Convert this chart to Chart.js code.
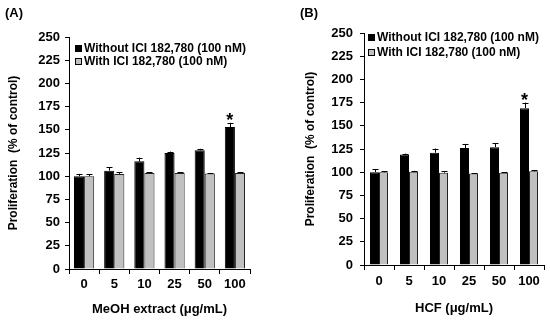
<!DOCTYPE html>
<html>
<head>
<meta charset="utf-8">
<script src="https://cdn.jsdelivr.net/npm/chart.js@4"></script>
<style>
  body { margin: 0; background: #fff; }
  .wrap { display: flex; width: 550px; height: 321px; }
  canvas { display: block; }
</style>
</head>
<body>
<div class="wrap">
  <canvas id="chart-a" width="275" height="321"></canvas>
  <canvas id="chart-b" width="275" height="321"></canvas>
</div>
<script>
// doses on the x axis (µg/mL)
const doses = ['0', '5', '10', '25', '50', '100'];

// panel A: MeOH extract
const meohWithout = [100, 106, 116, 125, 128, 153];
const meohWithoutErr = [2.5, 3.5, 4, 1.5, 1.5, 4.5];
const meohWith = [100, 102.5, 103.5, 103.5, 103, 103.5];
const meohWithErr = [2, 1.5, 0.5, 0.5, 0.5, 0.5];
const meohMarks = ['', '', '', '', '', '*'];

// panel B: HCF
const hcfWithout = [100, 119, 121, 126, 127, 169];
const hcfWithoutErr = [3, 1, 4.5, 4.5, 4.5, 6];
const hcfWith = [100, 100.5, 99.5, 98.5, 99.5, 101];
const hcfWithErr = [1, 1, 1.5, 0.5, 0.5, 1];
const hcfMarks = ['', '', '', '', '', '*'];

const yMin = 0;
const yMax = 250;
const yStep = 25;

const FONT = "'Liberation Sans', Arial, sans-serif";

const errorBars = {
  id: 'errorBars',
  afterDatasetsDraw(chart) {
    const ctx = chart.ctx;
    const y = chart.scales.y;
    chart.data.datasets.forEach((ds, i) => {
      const meta = chart.getDatasetMeta(i);
      meta.data.forEach((bar, j) => {
        const top = y.getPixelForValue(ds.data[j] + ds.errors[j]);
        const x = Math.round(bar.x) + 0.5;
        ctx.save();
        ctx.strokeStyle = '#000';
        ctx.lineWidth = 1;
        ctx.beginPath();
        ctx.moveTo(x, bar.y);
        ctx.lineTo(x, top);
        ctx.moveTo(x - 3, Math.round(top) + 0.5);
        ctx.lineTo(x + 3, Math.round(top) + 0.5);
        ctx.stroke();
        if (ds.marks && ds.marks[j]) {
          ctx.fillStyle = '#000';
          ctx.font = 'bold 18px ' + FONT;
          ctx.textAlign = 'center';
          ctx.textBaseline = 'alphabetic';
          ctx.fillText(ds.marks[j], bar.x, top + 3);
        }
        ctx.restore();
      });
    });
  }
};

const boxLegend = {
  id: 'boxLegend',
  afterDraw(chart, args, opts) {
    const ctx = chart.ctx;
    const area = chart.chartArea;
    ctx.save();
    ctx.font = 'bold 12px ' + FONT;
    ctx.textBaseline = 'middle';
    chart.data.datasets.forEach((ds, i) => {
      const cy = Math.round(area.top + opts.top + i * opts.rowGap);
      const bx = Math.round(area.left + opts.left);
      ctx.fillStyle = ds.backgroundColor;
      ctx.fillRect(bx, cy - 3, 7, 7);
      ctx.strokeStyle = '#000';
      ctx.lineWidth = 1;
      ctx.strokeRect(bx + 0.5, cy - 2.5, 6, 6);
      ctx.fillStyle = '#000';
      ctx.fillText(ds.label, bx + 9, cy + 0.5);
    });
    // panel letter
    ctx.font = 'bold 13px ' + FONT;
    ctx.fillText(opts.panel, opts.panelX, 13.5);
    ctx.restore();
  }
};

function makeChart(id, p) {
  const ctx = document.getElementById(id).getContext('2d');
  return new Chart(ctx, {
    type: 'bar',
    data: {
      labels: doses,
      datasets: [
        {
          label: 'Without ICI 182,780 (100 nM)',
          data: p.without,
          errors: p.withoutErr,
          marks: p.marks,
          backgroundColor: '#000000',
          borderColor: '#000000',
          borderWidth: 1,
        },
        {
          label: 'With ICI 182,780 (100 nM)',
          data: p.with,
          errors: p.withErr,
          backgroundColor: '#c0c0c0',
          borderColor: '#222222',
          borderWidth: 1,
        },
      ],
    },
    options: {
      responsive: false,
      animation: false,
      layout: { padding: p.padding },
      datasets: {
        bar: { categoryPercentage: p.cat, barPercentage: 1 },
      },
      plugins: {
        legend: { display: false },
        tooltip: { enabled: false },
        boxLegend: p.legend,
      },
      scales: {
        x: {
          afterFit: (scale) => { scale.height = p.xHeight; },
          grid: { offset: true, drawOnChartArea: false, tickLength: 5, color: '#000' },
          border: { color: '#000', width: 1 },
          ticks: { color: '#000', padding: p.xTickPad, font: { family: FONT, size: 13, weight: 'bold' } },
          title: {
            display: true,
            text: p.xTitle,
            color: '#000',
            padding: { top: 0, bottom: p.xTitlePad },
            font: { family: FONT, size: 13, weight: 'bold' },
          },
        },
        y: {
          min: yMin,
          max: yMax,
          afterFit: (scale) => { scale.width = p.yWidth; },
          grid: { drawOnChartArea: false, tickLength: 4, color: '#000' },
          border: { color: '#000', width: 1 },
          ticks: { stepSize: yStep, color: '#000', padding: p.yTickPad, font: { family: FONT, size: 13, weight: 'bold' } },
          title: {
            display: true,
            text: 'Proliferation  (% of control)',
            color: '#000',
            padding: { top: p.yTitlePad, bottom: 0 },
            font: { family: FONT, size: 12, weight: 'bold' },
          },
        },
      },
    },
    plugins: [errorBars, boxLegend],
  });
}

makeChart('chart-a', {
  without: meohWithout, withoutErr: meohWithoutErr,
  with: meohWith, withErr: meohWithErr, marks: meohMarks,
  xTitle: 'MeOH extract (μg/mL)',
  padding: { top: 37, right: 25, bottom: 0, left: 0 },
  yWidth: 69, xHeight: 52, yTickPad: 5, yTitlePad: 6, xTickPad: 3, xTitlePad: 4,
  cat: 0.67,
  legend: { left: 6, top: 11, rowGap: 13, panel: '(A)', panelX: 5 },
});

makeChart('chart-b', {
  without: hcfWithout, withoutErr: hcfWithoutErr,
  with: hcfWith, withErr: hcfWithErr, marks: hcfMarks,
  xTitle: 'HCF (μg/mL)',
  padding: { top: 33, right: 6, bottom: 0, left: 0 },
  yWidth: 89, xHeight: 56, yTickPad: 7, yTitlePad: 28, xTickPad: 4, xTitlePad: 4.5,
  cat: 0.6,
  legend: { left: 4, top: 4, rowGap: 15, panel: '(B)', panelX: 25 },
});
</script>
</body>
</html>
